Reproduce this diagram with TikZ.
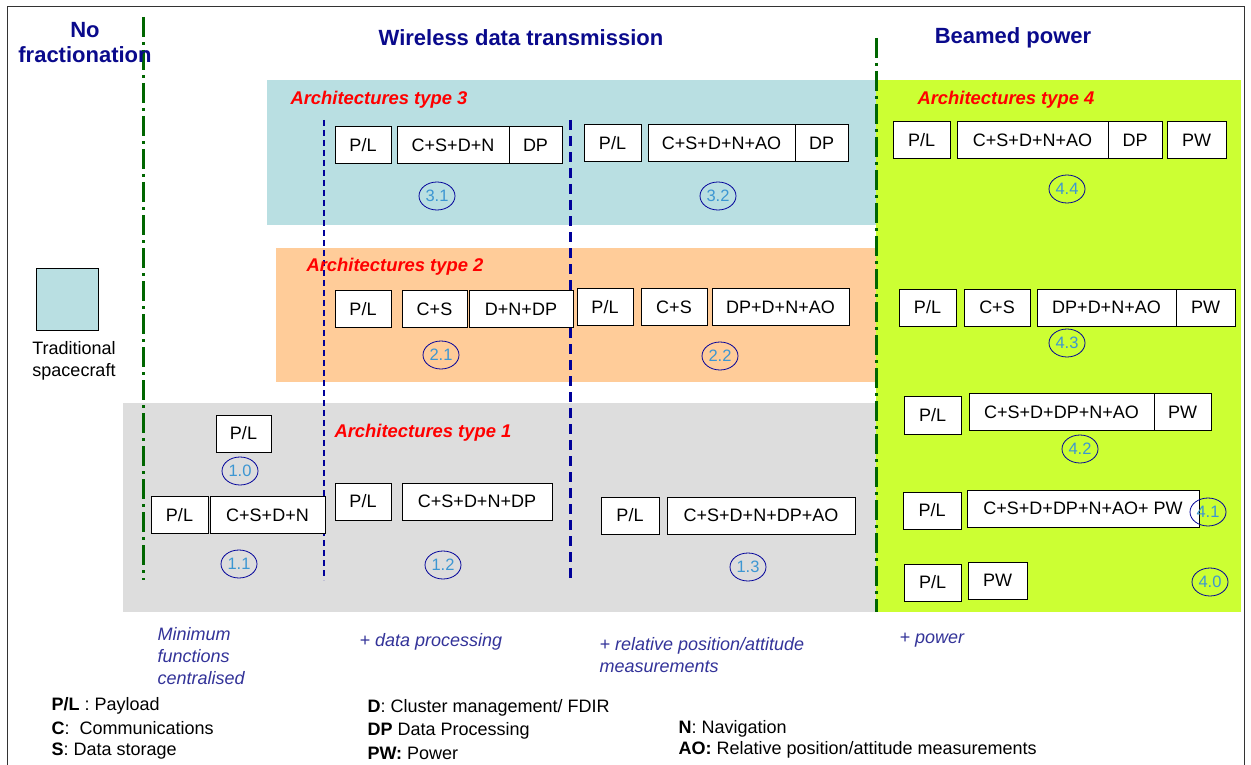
\documentclass[tikz,border=0pt]{standalone}
\usepackage{fontspec}
\setmainfont{Liberation Sans}
\usetikzlibrary{shapes.geometric}
\definecolor{cyanbg}{RGB}{185,223,226}
\definecolor{orangebg}{RGB}{255,204,153}
\definecolor{greybg}{RGB}{221,221,221}
\definecolor{greenbg}{RGB}{204,255,51}
\definecolor{dkgreen}{RGB}{0,102,0}
\definecolor{navyline}{RGB}{0,0,153}
\definecolor{headblue}{RGB}{10,10,140}
\definecolor{numblue}{RGB}{60,150,210}
\definecolor{annblue}{RGB}{51,51,153}
\tikzset{
  bx/.style={draw=black, fill=white, line width=1pt, minimum height=37pt, inner sep=0pt, font=\fontsize{18}{20}\selectfont},
  num/.style={ellipse, draw=navyline, line width=0.8pt, minimum width=36pt, minimum height=28pt, inner sep=0pt, text=numblue, font=\fontsize{16.5}{18}\selectfont},
  archlabel/.style={anchor=west, text=red, font=\fontsize{18.4}{20}\selectfont\bfseries\itshape},
  heading/.style={text=headblue, font=\fontsize{22}{26}\selectfont\bfseries, align=center},
  annot/.style={anchor=north west, text=annblue, font=\fontsize{18}{22}\selectfont\itshape, align=left},
  legend/.style={anchor=west, text=black, font=\fontsize{18}{20}\selectfont},
  dashdotgreen/.style={dkgreen, line width=3pt, dash pattern=on 20pt off 5pt on 3pt off 5pt},
}
\begin{document}
\begin{tikzpicture}[x=1pt,y=-1pt]
\useasboundingbox (0,0) rectangle (1251,765);
\fill[white] (0,0) rectangle (1251,765);
\draw[black!80, line width=1pt] (7,7) rectangle (1244,765);
% background panels
\fill[greybg] (123,403) rectangle (876,612);
\fill[orangebg] (276,248) rectangle (876,382);
\fill[cyanbg] (267,80) rectangle (876,225);
\fill[greenbg] (876,80) rectangle (1241,612);
% separators
\draw[dashdotgreen] (143,17) -- (143,580);
\draw[dashdotgreen] (876,38) -- (876,612);
\draw[navyline, line width=1.5pt, dash pattern=on 6pt off 4pt] (324,120) -- (324,580);
\draw[navyline, line width=3pt, dash pattern=on 10pt off 6pt] (570,120) -- (570,580);
% headings
\node[heading] (hno) at (85,43) {No\\[-1pt]fractionation};
\node[heading] (hwl) at (521,38) {Wireless data transmission};
\node[heading] (hbp) at (1013,38) {Beamed power};
% traditional spacecraft
\node[draw=black, fill=cyanbg, line width=1pt, minimum width=62pt, minimum height=62pt, inner sep=0pt] (trad) at (67,299) {};
\node[align=center, font=\fontsize{18}{22}\selectfont] (tradl) at (74,361) {Traditional\\spacecraft};
% arch labels
\node[archlabel] (l3) at (287,100) {Architectures type 3};
\node[archlabel] (l2) at (303,267) {Architectures type 2};
\node[archlabel] (l1) at (331,433) {Architectures type 1};
\node[archlabel] (l4) at (914,100) {Architectures type 4};
% type 3
\node[bx, minimum width=56pt] (a31p) at (363,145) {P/L};
\node[bx, minimum width=112pt] (a31c) at (453,145) {C+S+D+N};
\node[bx, minimum width=53pt] (a31d) at (535.5,145) {DP};
\node[num] (n31) at (437,196) {3.1};
\node[bx, minimum width=57pt] (a32p) at (612.5,143) {P/L};
\node[bx, minimum width=147pt] (a32c) at (721.5,143) {C+S+D+N+AO};
\node[bx, minimum width=53pt] (a32d) at (821.5,143) {DP};
\node[num] (n32) at (718,196) {3.2};
% type 2
\node[bx, minimum width=56pt] (a21p) at (363,309) {P/L};
\node[bx, minimum width=65pt] (a21c) at (434.5,309) {C+S};
\node[bx, minimum width=104pt] (a21d) at (521,309) {D+N+DP};
\node[num] (n21) at (441,355) {2.1};
\node[bx, minimum width=56pt] (a22p) at (605,307) {P/L};
\node[bx, minimum width=66pt] (a22c) at (674,307) {C+S};
\node[bx, minimum width=137pt] (a22d) at (780.5,307) {DP+D+N+AO};
\node[num] (n22) at (720,356) {2.2};
% type 1
\node[bx, minimum width=55pt] (a10p) at (243.5,433.5) {P/L};
\node[num] (n10) at (240,471) {1.0};
\node[bx, minimum width=57pt] (a11p) at (179.5,515) {P/L};
\node[bx, minimum width=115pt] (a11c) at (267.5,515) {C+S+D+N};
\node[num] (n11) at (239,564) {1.1};
\node[bx, minimum width=56pt] (a12p) at (363,501.5) {P/L};
\node[bx, minimum width=150pt] (a12c) at (477,501.5) {C+S+D+N+DP};
\node[num] (n12) at (443,565) {1.2};
\node[bx, minimum width=58pt] (a13p) at (630,515.5) {P/L};
\node[bx, minimum width=188pt] (a13c) at (761,515.5) {C+S+D+N+DP+AO};
\node[num] (n13) at (748,567) {1.3};
% type 4
\node[bx, minimum width=57pt] (a44p) at (921.5,140.5) {P/L};
\node[bx, minimum width=151pt] (a44c) at (1032.5,140.5) {C+S+D+N+AO};
\node[bx, minimum width=54pt] (a44d) at (1135,140.5) {DP};
\node[bx, minimum width=59pt] (a44w) at (1196.5,140.5) {PW};
\node[num] (n44) at (1067,189) {4.4};
\node[bx, minimum width=57pt] (a43p) at (927.5,307.5) {P/L};
\node[bx, minimum width=66pt] (a43c) at (997,307.5) {C+S};
\node[bx, minimum width=139pt] (a43d) at (1106.5,307.5) {DP+D+N+AO};
\node[bx, minimum width=59pt] (a43w) at (1205.5,307.5) {PW};
\node[num] (n43) at (1067,343) {4.3};
\node[bx, minimum width=57pt, minimum height=38pt] (a42p) at (932.5,415) {P/L};
\node[bx, minimum width=185pt] (a42c) at (1061.5,412) {C+S+D+DP+N+AO};
\node[bx, minimum width=57pt] (a42w) at (1182.5,412) {PW};
\node[num] (n42) at (1080,449) {4.2};
\node[bx, minimum width=58pt] (a41p) at (932,510.5) {P/L};
\node[bx, minimum width=232pt] (a41c) at (1083,508.5) {C+S+D+DP+N+AO+ PW};
\node[num] (n41) at (1208,512) {4.1};
\node[bx, minimum width=57pt] (a40p) at (932.5,582.5) {P/L};
\node[bx, minimum width=59pt] (a40w) at (997.5,580.5) {PW};
\node[num] (n40) at (1210,582) {4.0};
% annotations
\node[annot] (t1) at (154,624) {Minimum\\functions\\centralised};
\node[annot] (t2) at (356,630) {+ data processing};
\node[annot] (t3) at (596,634) {+ relative position/attitude\\measurements};
\node[annot] (t4) at (896,630) {+ power};
% legend
\node[legend] (g1) at (48,706) {\textbf{P/L} : Payload};
\node[legend] (g2) at (48,728) {\textbf{C}:\ \ Communications};
\node[legend] (g3) at (48,751) {\textbf{S}: Data storage};
\node[legend] (g4) at (364,708) {\textbf{D}: Cluster management/ FDIR};
\node[legend] (g5) at (364,731) {\textbf{DP} Data Processing};
\node[legend] (g6) at (364,753) {\textbf{PW:} Power};
\node[legend] (g7) at (675,729) {\textbf{N}: Navigation};
\node[legend] (g8) at (675,750) {\textbf{AO:} Relative position/attitude measurements};
\end{tikzpicture}
\end{document}
